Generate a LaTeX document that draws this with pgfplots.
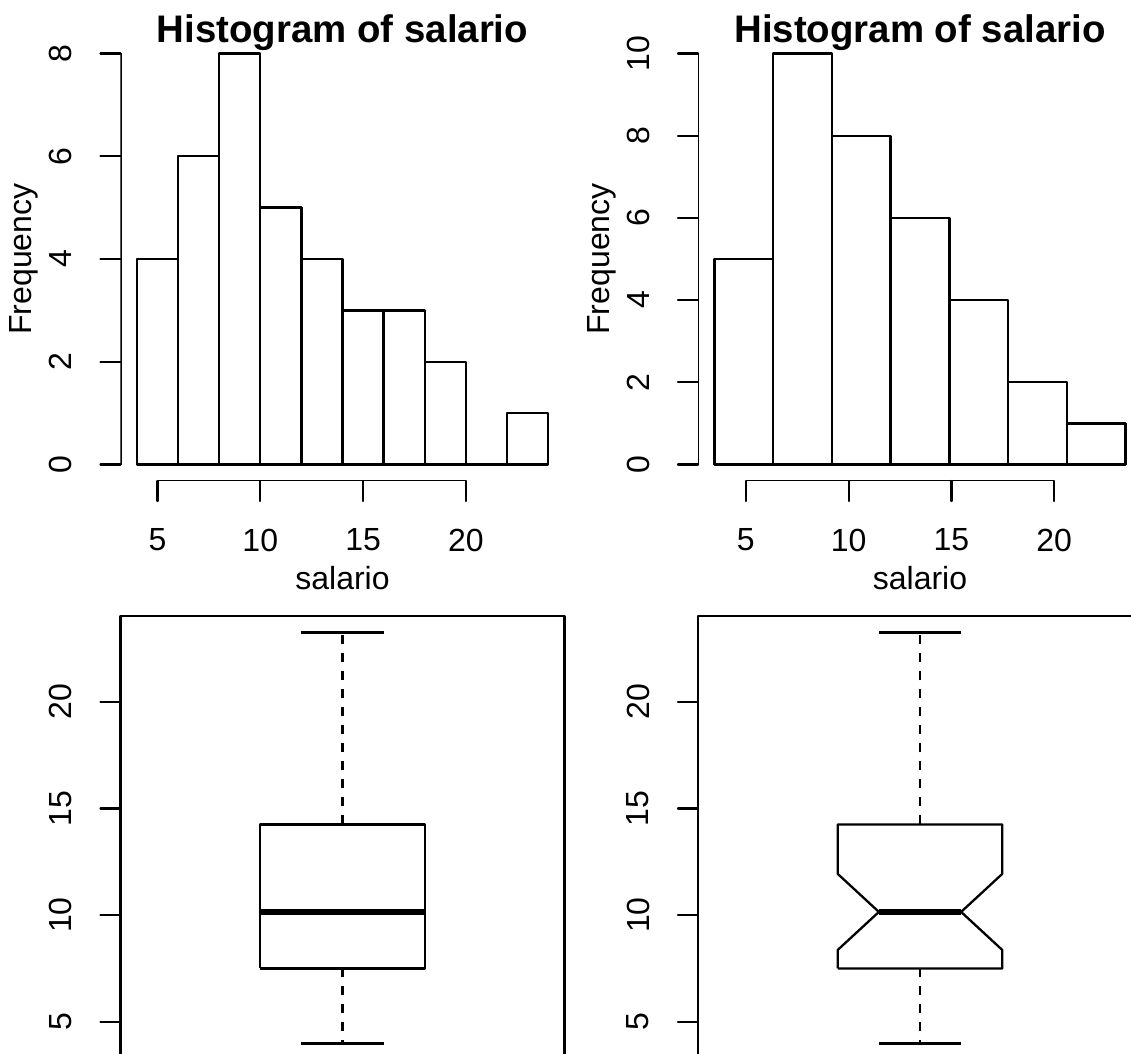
\documentclass[border=0pt]{standalone}
\usepackage{fontspec}
\setmainfont{Liberation Sans}
\usepackage{pgfplots}
\pgfplotsset{compat=1.18}
\begin{document}
\begin{tikzpicture}[x=1pt,y=1pt,line join=round,line cap=round]
\path[use as bounding box, clip] (0,0) rectangle (565.5,527);
\pgfplotsset{
  rbase/.style={
    scale only axis, width=222pt, height=222pt,
    anchor=south west,
    /pgf/number format/assume math mode=true,
    tick align=outside,
    major tick length=10pt,
    every tick/.style={draw=black, line width=1.15pt, line cap=round},
    tick label style={font=\fontsize{16}{19}\selectfont},
    yticklabel={\rotatebox{90}{\pgfmathprintnumber{\tick}}},
    xticklabel style={anchor=center, yshift=-19.5pt},
    yticklabel style={anchor=center, xshift=-20pt},
  },
  hist/.style={
    rbase,
    axis lines*=left,
    axis line style={draw=none},
    xtick={5,10,15,20},
    title={Histogram of salario},
    every axis title/.style={at={(rel axis cs:0.5,1)}, anchor=base, yshift=-2.8pt,
      font=\bfseries\fontsize{19.2}{23}\selectfont},
    xlabel={salario},
    every axis x label/.style={at={(rel axis cs:0.5,0)}, anchor=base, yshift=-54.5pt,
      font=\fontsize{16}{19}\selectfont},
    ylabel={\rotatebox{90}{Frequency}},
    every axis y label/.style={at={(rel axis cs:0,0.5)}, anchor=center, xshift=-48.25pt,
      font=\fontsize{16}{19}\selectfont},
  },
  bp/.style={
    rbase,
    axis line style={line width=1.15pt},
    xmin=0.46, xmax=1.54, ymin=3.21, ymax=24.02,
    xtick=\empty, ytick={5,10,15,20}, ytick pos=left,
  },
}
% ---------------- top left histogram
\begin{axis}[hist, at={(60.25pt,286.5pt)},
  xmin=3.2, xmax=24.8, ymin=-0.32, ymax=8.32, ytick={0,2,4,6,8}]
\addplot[ybar interval, fill=white, draw=black, line width=1.15pt] coordinates {
  (4,4) (6,6) (8,8) (10,5) (12,4) (14,3) (16,3) (18,2) (20,0) (22,1) (24,1)};
\draw[line width=1.15pt] (axis cs:5,-0.32) -- (axis cs:20,-0.32);
\draw[line width=1.15pt] (axis cs:3.2,0) -- (axis cs:3.2,8);
\end{axis}
% ---------------- top right histogram
\begin{axis}[hist, at={(349pt,286.5pt)},
  xmin=2.67, xmax=24.27, ymin=-0.4, ymax=10.4, ytick={0,2,4,6,8,10}]
\addplot[ybar interval, fill=white, draw=black, line width=1.15pt] coordinates {
  (3.470,5) (6.327,10) (9.184,8) (12.041,6) (14.898,4) (17.755,2) (20.612,1) (23.469,1)};
\draw[line width=1.15pt] (axis cs:5,-0.4) -- (axis cs:20,-0.4);
\draw[line width=1.15pt] (axis cs:2.67,0) -- (axis cs:2.67,10);
\end{axis}
% ---------------- bottom left boxplot
\begin{axis}[bp, at={(60.25pt,-3pt)}]
\addplot[black, line width=1.15pt, mark=none] coordinates {
  (0.8,7.5) (1.2,7.5) (1.2,14.25) (0.8,14.25) (0.8,7.5)};
\addplot[black, line width=3.4pt, line cap=butt, mark=none] coordinates {(0.8,10.15) (1.2,10.15)};
\addplot[black, line width=1.15pt, line cap=butt, dash pattern=on 4.5pt off 4.5pt, mark=none] coordinates {(1,14.25) (1,23.25)};
\addplot[black, line width=1.15pt, line cap=butt, dash pattern=on 4.5pt off 4.5pt, mark=none] coordinates {(1,7.5) (1,3.98)};
\addplot[black, line width=1.15pt, mark=none] coordinates {(0.9,23.25) (1.1,23.25)};
\addplot[black, line width=1.15pt, mark=none] coordinates {(0.9,3.98) (1.1,3.98)};
\end{axis}
% ---------------- bottom right notched boxplot
\begin{axis}[bp, at={(349pt,-3pt)}]
\addplot[black, line width=1.15pt, mark=none] coordinates {
  (0.8,7.5) (1.2,7.5) (1.2,8.37) (1.1,10.15) (1.2,11.93) (1.2,14.25)
  (0.8,14.25) (0.8,11.93) (0.9,10.15) (0.8,8.37) (0.8,7.5)};
\addplot[black, line width=3.4pt, line cap=butt, mark=none] coordinates {(0.9,10.15) (1.1,10.15)};
\addplot[black, line width=1.15pt, line cap=butt, dash pattern=on 4.5pt off 4.5pt, mark=none] coordinates {(1,14.25) (1,23.25)};
\addplot[black, line width=1.15pt, line cap=butt, dash pattern=on 4.5pt off 4.5pt, mark=none] coordinates {(1,7.5) (1,3.98)};
\addplot[black, line width=1.15pt, mark=none] coordinates {(0.9,23.25) (1.1,23.25)};
\addplot[black, line width=1.15pt, mark=none] coordinates {(0.9,3.98) (1.1,3.98)};
\end{axis}
\end{tikzpicture}
\end{document}
